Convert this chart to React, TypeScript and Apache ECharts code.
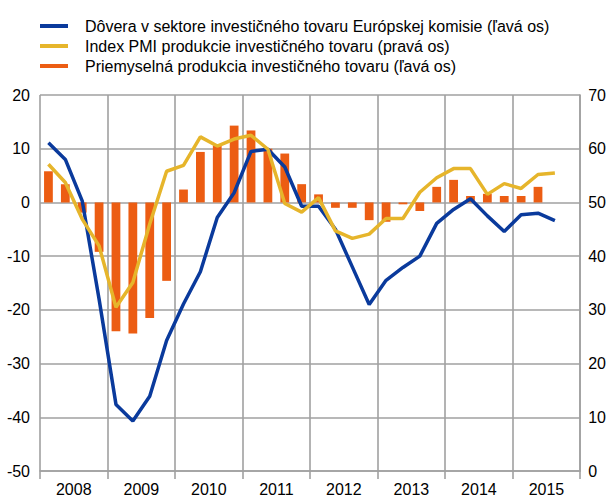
import React, { useEffect, useRef } from "react";
import * as echarts from "echarts";

const years = ["2008", "2009", "2010", "2011", "2012", "2013", "2014", "2015"];
const quarters: string[] = years.flatMap((y) => ["Q1", "Q2", "Q3", "Q4"].map((q) => `${y} ${q}`));

// Dôvera v sektore investičného tovaru EK (left axis)
const confidence = [
  11.1, 8.0, 0.3, -18.0, -37.6, -40.7, -36.1, -25.7, -18.9, -12.9, -2.8, 1.8, 9.5, 9.9, 6.6, -0.7,
  -0.7, -5.0, -12.0, -19.0, -14.5, -12.1, -10.0, -3.9, -1.3, 0.7, -2.5, -5.4, -2.3, -2.0, -3.4, null,
];
// Index PMI produkcie investičného tovaru (right axis)
const pmi = [
  57.1, 53.7, 46.9, 41.9, 30.5, 35.1, 46.0, 55.8, 56.9, 62.2, 60.5, 61.8, 62.5, 59.9, 49.8, 48.2,
  50.9, 44.7, 43.3, 44.1, 47.0, 47.0, 51.9, 54.6, 56.3, 56.3, 51.5, 53.5, 52.6, 55.2, 55.5, null,
];
// Priemyselná produkcia investičného tovaru (left axis)
const production = [
  5.8, 3.4, -1.9, -9.2, -24.0, -24.4, -21.5, -14.6, 2.4, 9.4, 10.6, 14.3, 13.4, 10.0, 9.1, 3.4,
  1.5, -1.0, -1.0, -3.3, -3.6, -0.35, -1.6, 2.9, 4.2, 1.2, 1.6, 1.2, 1.2, 2.9, null, null,
];

const names = [
  "Dôvera v sektore investičného tovaru Európskej komisie (ľavá os)",
  "Index PMI produkcie investičného tovaru (pravá os)",
  "Priemyselná produkcia investičného tovaru (ľavá os)",
];

const BLUE = "#0a3a9c";
const YELLOW = "#e6b52b";
const ORANGE = "#ec5d13";
const GRID = "#a0a0a0";
const FONT = "Liberation Sans, Arial, sans-serif";

export default function App() {
  const ref = useRef<HTMLDivElement>(null);
  useEffect(() => {
    document.body.style.margin = "0";
    if (!ref.current) return;
    const chart = echarts.init(ref.current, undefined, { renderer: "svg" });
    const line = { color: GRID, width: 1.6, type: "solid" };
    chart.setOption({
      animation: false,
      textStyle: { fontFamily: FONT },
      legend: {
        orient: "vertical",
        left: 35,
        top: 12,
        itemWidth: 28,
        itemHeight: 4,
        itemGap: 2,
        icon: "rect",
        textStyle: {
          fontSize: 16,
          lineHeight: 18,
          color: "#000",
          fontFamily: FONT,
          padding: [0, 0, 0, 12],
        },
        data: names,
      },
      grid: { left: 40, right: 27, top: 95, bottom: 25, containLabel: false },
      xAxis: [
        { type: "category", data: quarters, show: false, boundaryGap: true },
        {
          type: "category",
          data: years,
          position: "bottom",
          boundaryGap: true,
          axisLine: { show: true, lineStyle: line },
          axisTick: { show: true, length: 8, lineStyle: line },
          axisLabel: { fontSize: 16, color: "#000", fontFamily: FONT, margin: 10 },
          splitLine: { show: false },
        },
        {
          type: "value",
          min: 0,
          max: quarters.length,
          interval: 4,
          position: "bottom",
          axisLine: { show: false },
          axisTick: { show: false },
          axisLabel: { show: false },
          splitLine: { show: true, lineStyle: line },
        },
      ],
      yAxis: [
        {
          type: "value",
          min: -50,
          max: 20,
          interval: 10,
          axisLine: { show: false },
          axisTick: { show: false },
          axisLabel: { fontSize: 16, color: "#000", fontFamily: FONT, margin: 10 },
          splitLine: { show: true, lineStyle: line },
        },
        {
          type: "value",
          min: 0,
          max: 70,
          interval: 10,
          position: "right",
          axisLine: { show: true, lineStyle: line },
          axisTick: { show: false },
          axisLabel: { fontSize: 16, color: "#000", fontFamily: FONT, margin: 8 },
          splitLine: { show: false },
        },
      ],
      series: [
        {
          name: names[2],
          type: "bar",
          xAxisIndex: 0,
          yAxisIndex: 0,
          data: production,
          barWidth: "52%",
          itemStyle: { color: ORANGE },
          z: 1,
        },
        {
          name: names[0],
          type: "line",
          xAxisIndex: 0,
          yAxisIndex: 0,
          data: confidence,
          symbol: "none",
          lineStyle: { color: BLUE, width: 3.5 },
          itemStyle: { color: BLUE },
          z: 3,
        },
        {
          name: names[1],
          type: "line",
          xAxisIndex: 0,
          yAxisIndex: 1,
          data: pmi,
          symbol: "none",
          lineStyle: { color: YELLOW, width: 3.5 },
          itemStyle: { color: YELLOW },
          z: 4,
        },
      ],
    });
    return () => chart.dispose();
  }, []);
  return <div ref={ref} style={{ width: 609, height: 497 }} />;
}
